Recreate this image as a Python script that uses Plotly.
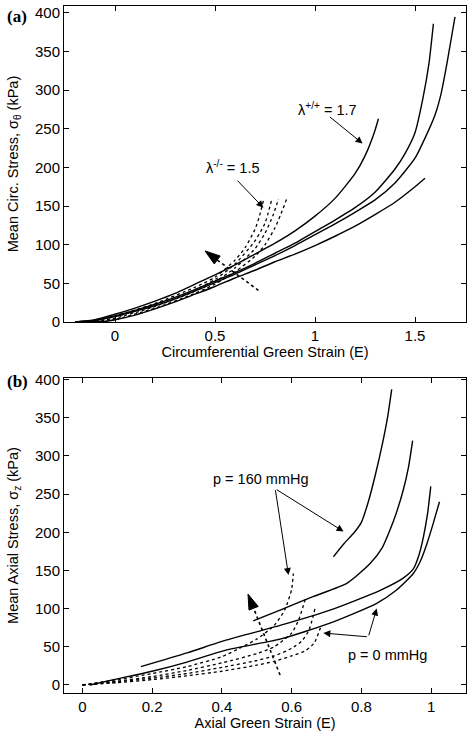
import plotly.graph_objects as go
from plotly.subplots import make_subplots

# ---------------- Panel (a): circumferential ----------------
a_solid_A_x = [-0.2, -0.1, 0, 0.1, 0.2, 0.3, 0.4, 0.5, 0.6, 0.7, 0.8, 0.9, 1.0, 1.1, 1.2, 1.25, 1.3, 1.317]
a_solid_A_y = [0, 3, 10, 18, 27, 37, 49, 61, 74, 88, 102, 118, 137, 160, 192, 215, 248, 263]
a_solid_B_x = [-0.2, -0.1, 0, 0.1, 0.2, 0.3, 0.4, 0.5, 0.6, 0.7, 0.8, 0.9, 1.0, 1.1, 1.2, 1.3, 1.4, 1.45, 1.5, 1.54, 1.57, 1.592]
a_solid_B_y = [0, 2, 8, 15, 23, 32, 42, 53, 64, 76, 89, 102, 117, 132, 148, 168, 198, 218, 245, 290, 335, 386]
a_solid_C_x = [-0.2, -0.1, 0, 0.1, 0.2, 0.3, 0.4, 0.5, 0.6, 0.7, 0.8, 0.9, 1.0, 1.1, 1.2, 1.3, 1.4, 1.5, 1.55, 1.6, 1.63, 1.66, 1.68, 1.70]
a_solid_C_y = [0, 2, 7, 14, 21, 30, 40, 51, 62, 74, 86, 99, 113, 127, 142, 158, 180, 212, 238, 268, 295, 335, 365, 395]
a_solid_D_x = [-0.15, -0.05, 0, 0.1, 0.2, 0.3, 0.4, 0.5, 0.6, 0.7, 0.8, 0.9, 1.0, 1.1, 1.2, 1.3, 1.4, 1.5, 1.55]
a_solid_D_y = [0, 1, 3, 9, 17, 26, 36, 46, 57, 67, 78, 88, 99, 111, 124, 139, 155, 175, 186]

a_dot_1_x = [-0.15, 0, 0.2, 0.4, 0.5, 0.6, 0.65, 0.7, 0.72, 0.742]
a_dot_1_y = [0, 8, 24, 45, 58, 80, 96, 120, 135, 157]
a_dot_2_x = [-0.15, 0, 0.2, 0.4, 0.5, 0.6, 0.7, 0.75, 0.783]
a_dot_2_y = [0, 7, 22, 42, 55, 75, 105, 128, 158]
a_dot_3_x = [-0.1, 0, 0.2, 0.4, 0.5, 0.6, 0.7, 0.75, 0.79, 0.817]
a_dot_3_y = [0, 5, 20, 40, 52, 70, 95, 115, 138, 159]
a_dot_4_x = [-0.05, 0, 0.2, 0.4, 0.5, 0.6, 0.7, 0.75, 0.8, 0.83, 0.858]
a_dot_4_y = [0, 3, 18, 37, 49, 65, 85, 100, 122, 140, 159]

a_trend_x = [0.717, 0.45]
a_trend_y = [41, 92]

# ---------------- Panel (b): axial ----------------
b_solid_1_x = [0.72, 0.75, 0.78, 0.80, 0.82, 0.84, 0.86, 0.875, 0.887]
b_solid_1_y = [168, 185, 200, 213, 240, 275, 315, 350, 387]
b_solid_2_x = [0.49, 0.567, 0.663, 0.758, 0.825, 0.86, 0.882, 0.9, 0.92, 0.935, 0.947]
b_solid_2_y = [84, 98, 116, 133, 159, 180, 203, 225, 255, 285, 320]
b_solid_3_x = [0.168, 0.3, 0.414, 0.567, 0.71, 0.854, 0.92, 0.949, 0.965, 0.978, 0.99, 0.999]
b_solid_3_y = [24, 42, 59, 78, 98, 124, 140, 152, 170, 194, 225, 260]
b_solid_4_x = [0.022, 0.1, 0.2, 0.3, 0.414, 0.567, 0.71, 0.844, 0.9, 0.949, 0.97, 0.988, 1.005, 1.024]
b_solid_4_y = [0, 8, 18, 30, 46, 60, 81, 107, 124, 146, 163, 185, 210, 240]

b_dot_1_x = [0.0, 0.1, 0.2, 0.3, 0.4, 0.45, 0.5, 0.55, 0.58, 0.6, 0.605]
b_dot_1_y = [0, 7, 15, 24, 37, 48, 60, 78, 98, 125, 146]
b_dot_2_x = [0.0, 0.1, 0.2, 0.3, 0.4, 0.5, 0.55, 0.6, 0.62, 0.639]
b_dot_2_y = [0, 5, 11, 19, 29, 41, 50, 68, 85, 112]
b_dot_3_x = [0.0, 0.1, 0.2, 0.3, 0.4, 0.5, 0.55, 0.6, 0.63, 0.65, 0.667]
b_dot_3_y = [0, 4, 9, 15, 23, 32, 38, 48, 58, 72, 100]
b_dot_4_x = [0.0, 0.1, 0.2, 0.3, 0.4, 0.5, 0.55, 0.6, 0.64, 0.665, 0.685]
b_dot_4_y = [0, 3, 7, 12, 18, 26, 31, 38, 45, 55, 78]

b_trend_x = [0.567, 0.475]
b_trend_y = [13, 119]

# ---------------- Annotation positions ----------------
a_lab_minus = (0.59, 201)
a_arr_minus = (0.605, 185, 0.742, 148)   # tail x, tail y, head x, head y
a_lab_plus = (1.0625, 276)
a_arr_plus = (1.067, 267, 1.238, 231)
b_lab_160 = (0.512, 270)
b_arr_160 = [(0.553, 257, 0.749, 201), (0.553, 257, 0.591, 144)]
b_lab_0 = (0.875, 39)
b_arr_0 = [(0.82, 63, 0.844, 100), (0.82, 63, 0.691, 68)]

x_ticks_a = [0, 0.5, 1, 1.5]
x_ticks_b = [0, 0.2, 0.4, 0.6, 0.8, 1]
y_ticks = [0, 50, 100, 150, 200, 250, 300, 350, 400]

FONT = "Liberation Sans, Arial, sans-serif"
TICK_SIZE = 15
TEXT_SIZE = 14.5

fig = make_subplots(rows=2, cols=1, vertical_spacing=0.0815)

solid = dict(color="black", width=1.4, shape="spline", smoothing=0.6)
dotted = dict(color="black", width=1.3, dash="dot", shape="spline", smoothing=0.6)
dotted_straight = dict(color="black", width=1.6, dash="dot")
arrow_marker = dict(symbol="arrow", angleref="previous", size=[0, 16], color="black",
                    opacity=1, line=dict(color="black", width=1))

for xs, ys in [(a_solid_A_x, a_solid_A_y), (a_solid_B_x, a_solid_B_y),
               (a_solid_C_x, a_solid_C_y), (a_solid_D_x, a_solid_D_y)]:
    fig.add_trace(go.Scatter(x=xs, y=ys, mode="lines", line=solid, showlegend=False), row=1, col=1)
for xs, ys in [(a_dot_1_x, a_dot_1_y), (a_dot_2_x, a_dot_2_y),
               (a_dot_3_x, a_dot_3_y), (a_dot_4_x, a_dot_4_y)]:
    fig.add_trace(go.Scatter(x=xs, y=ys, mode="lines", line=dotted, showlegend=False), row=1, col=1)
fig.add_trace(go.Scatter(x=a_trend_x, y=a_trend_y, mode="lines+markers", line=dotted_straight,
                         marker=arrow_marker, showlegend=False), row=1, col=1)

for xs, ys in [(b_solid_1_x, b_solid_1_y), (b_solid_2_x, b_solid_2_y),
               (b_solid_3_x, b_solid_3_y), (b_solid_4_x, b_solid_4_y)]:
    fig.add_trace(go.Scatter(x=xs, y=ys, mode="lines", line=solid, showlegend=False), row=2, col=1)
for xs, ys in [(b_dot_1_x, b_dot_1_y), (b_dot_2_x, b_dot_2_y),
               (b_dot_3_x, b_dot_3_y), (b_dot_4_x, b_dot_4_y)]:
    fig.add_trace(go.Scatter(x=xs, y=ys, mode="lines", line=dotted, showlegend=False), row=2, col=1)
fig.add_trace(go.Scatter(x=b_trend_x, y=b_trend_y, mode="lines+markers", line=dotted_straight,
                         marker=arrow_marker, showlegend=False), row=2, col=1)

ann = []
def arrow(ax, ay, hx, hy, xr, yr):
    ann.append(dict(x=hx, y=hy, ax=ax, ay=ay, xref=xr, yref=yr, axref=xr, ayref=yr,
                    text="", showarrow=True, arrowhead=2, arrowsize=1.4, arrowwidth=1,
                    arrowcolor="black"))
def label(x, y, t, xr, yr):
    ann.append(dict(x=x, y=y, xref=xr, yref=yr, text=t, showarrow=False,
                    font=dict(family=FONT, size=TEXT_SIZE, color="black")))

label(*a_lab_minus, "λ<sup>-/-</sup> = 1.5", "x", "y")
arrow(*a_arr_minus, "x", "y")
label(*a_lab_plus, "λ<sup>+/+</sup> = 1.7", "x", "y")
arrow(*a_arr_plus, "x", "y")
label(*b_lab_160, "p = 160 mmHg", "x2", "y2")
for a in b_arr_160:
    arrow(*a, "x2", "y2")
label(*b_lab_0, "p = 0 mmHg", "x2", "y2")
for a in b_arr_0:
    arrow(*a, "x2", "y2")

ann.append(dict(x=-0.147, y=0.985, xref="paper", yref="paper", xanchor="left", yanchor="middle",
                text="<b>(a)</b>", showarrow=False,
                font=dict(family="Liberation Serif, Times New Roman, serif", size=17, color="black")))
ann.append(dict(x=-0.147, y=0.454, xref="paper", yref="paper", xanchor="left", yanchor="middle",
                text="<b>(b)</b>", showarrow=False,
                font=dict(family="Liberation Serif, Times New Roman, serif", size=17, color="black")))

axis_common = dict(showgrid=False, zeroline=False, showline=True, linecolor="black", linewidth=1,
                   mirror="ticks", ticks="inside", ticklen=5, tickcolor="black", automargin=False,
                   tickfont=dict(family=FONT, size=TICK_SIZE, color="black"))

fig.update_xaxes(**axis_common)
fig.update_yaxes(**axis_common)
title_font = dict(family=FONT, size=TEXT_SIZE, color="black")
fig.update_xaxes(range=[-0.255, 1.755], tickvals=x_ticks_a,
                 title=dict(text="Circumferential Green Strain (E)", standoff=2, font=title_font),
                 row=1, col=1)
fig.update_yaxes(range=[0, 409], tickvals=y_ticks,
                 title=dict(text="Mean Circ. Stress, σ<sub>θ</sub> (kPa)", standoff=12, font=title_font),
                 row=1, col=1)
fig.update_xaxes(range=[-0.0525, 1.1], tickvals=x_ticks_b,
                 title=dict(text="Axial Green Strain (E)", standoff=2, font=title_font),
                 row=2, col=1)
fig.update_yaxes(range=[-10.5, 402], tickvals=y_ticks,
                 title=dict(text="Mean Axial Stress, σ<sub>z</sub> (kPa)", standoff=12, font=title_font),
                 row=2, col=1)

fig.update_layout(width=472, height=737, margin=dict(l=64, r=6, t=6, b=44, autoexpand=False),
                  plot_bgcolor="white", paper_bgcolor="white", annotations=ann,
                  showlegend=False, hovermode=False)
fig.layout.yaxis.domain = [0.540, 1.0]
fig.layout.yaxis2.domain = [0.0, 0.4585]

fig.write_html("out.html", config={"displayModeBar": False, "staticPlot": True},
               post_script="document.body.style.margin='0';document.body.style.overflow='hidden';")
